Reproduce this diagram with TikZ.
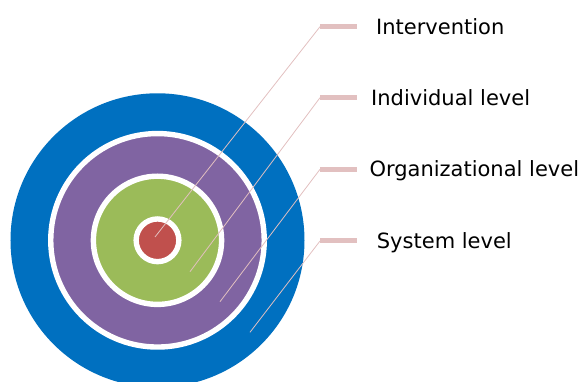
\documentclass[tikz,border=0pt]{standalone}
\usepackage{fontspec}
\setmainfont{DejaVu Sans}
\definecolor{sysblue}{HTML}{0070C0}
\definecolor{orgpurple}{HTML}{8064A2}
\definecolor{indgreen}{HTML}{9BBB59}
\definecolor{intred}{HTML}{C0504D}
\definecolor{leadpink}{HTML}{E2C0C0}

\begin{document}
\begin{tikzpicture}[x=1pt,y=1pt,
		ring/.style={draw=white,line width=5.4pt},
		lead/.style={leadpink,line width=0.8pt},
		bar/.style={leadpink,line width=5pt},
		lbl/.style={anchor=base west,inner sep=0pt,font=\fontsize{21}{25}\selectfont}]
		\clip (-157.5,-141.7) rectangle (426.5,240.3);
		\fill [sysblue] (0,0) circle (147);
		\filldraw [ring,fill=orgpurple] (0,0) circle (106.75);
		\filldraw [ring,fill=indgreen] (0,0) circle (64.1);
		\filldraw [ring,fill=intred] (0,0) circle (21.35);
		\coordinate (p1) at (-2.5,3.3);
		\coordinate (p2) at (32.5,-31.4);
		\coordinate (p3) at (62.5,-61.4);
		\coordinate (p4) at (92.5,-92);
		\coordinate (k1) at (162.5,213.6);
		\coordinate (k2) at (162.5,142.6);
		\coordinate (k3) at (162.5,71);
		\coordinate (k4) at (162.5,-0.7);
		\coordinate (e1) at (199.8,213.6);
		\coordinate (e2) at (199.8,142.6);
		\coordinate (e3) at (199.8,71);
		\coordinate (e4) at (199.8,-0.7);
		\draw [lead] (p1) -- (k1);
		\draw [lead] (p2) -- (k2);
		\draw [lead] (p3) -- (k3);
		\draw [lead] (p4) -- (k4);
		\draw [bar] (k1) -- (e1);
		\draw [bar] (k2) -- (e2);
		\draw [bar] (k3) -- (e3);
		\draw [bar] (k4) -- (e4);
		\node (int) [lbl] at (218.5,205.9) {Intervention};
		\node (ind) [lbl] at (213.5,134.9) {Individual level};
		\node (org) [lbl] at (211.8,63.3) {Organizational level};
		\node (sys) [lbl] at (219.2,-8.4) {System level};
	\end{tikzpicture}
\end{document}
